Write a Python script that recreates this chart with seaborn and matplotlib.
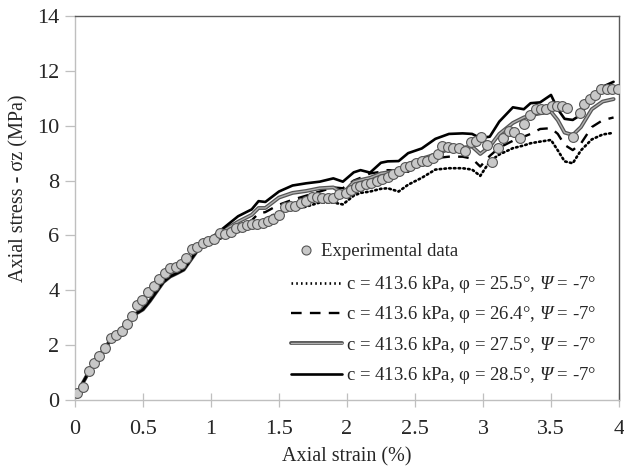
import numpy as np
import pandas as pd
import matplotlib
matplotlib.use("Agg")
import matplotlib.pyplot as plt
import matplotlib.patheffects as pe
from matplotlib.lines import Line2D
from matplotlib.ticker import FuncFormatter
import seaborn as sns

# ---------------- data ----------------
exp_strain = [0.017, 0.061, 0.103, 0.139, 0.179, 0.22, 0.262, 0.30, 0.343, 0.384,
              0.421, 0.46, 0.497, 0.54, 0.58, 0.62, 0.66, 0.70, 0.74, 0.78,
              0.82, 0.86, 0.90, 0.94, 0.98, 1.02, 1.064, 1.10, 1.15, 1.187,
              1.226, 1.265, 1.30, 1.34, 1.38, 1.416, 1.455, 1.50, 1.545, 1.58,
              1.62, 1.664, 1.70, 1.74, 1.78, 1.82, 1.86, 1.90, 1.945, 1.99,
              2.03, 2.07, 2.097, 2.14, 2.18, 2.22, 2.26, 2.30, 2.34, 2.385,
              2.43, 2.466, 2.51, 2.55, 2.586, 2.63, 2.667, 2.70, 2.74, 2.78,
              2.826, 2.865, 2.91, 2.95, 2.985, 3.03, 3.066, 3.107, 3.15, 3.19,
              3.23, 3.27, 3.305, 3.345, 3.39, 3.43, 3.466, 3.505, 3.547, 3.584,
              3.62, 3.66, 3.71, 3.745, 3.785, 3.82, 3.866, 3.91, 3.946, 3.99]
exp_stress = [0.24, 0.49, 1.07, 1.36, 1.62, 1.91, 2.27, 2.37, 2.53, 2.76,
              3.07, 3.46, 3.65, 3.93, 4.16, 4.41, 4.62, 4.80, 4.86, 4.95,
              5.17, 5.50, 5.59, 5.74, 5.81, 5.87, 6.08, 6.04, 6.14, 6.26,
              6.32, 6.37, 6.40, 6.40, 6.44, 6.53, 6.59, 6.74, 7.02, 7.08,
              7.06, 7.19, 7.27, 7.41, 7.39, 7.38, 7.35, 7.38, 7.50, 7.56,
              7.66, 7.75, 7.80, 7.86, 7.92, 7.98, 8.06, 8.14, 8.23, 8.36,
              8.48, 8.54, 8.64, 8.72, 8.72, 8.83, 8.97, 9.27, 9.24, 9.20,
              9.18, 9.08, 9.40, 9.44, 9.58, 9.30, 8.67, 9.19, 9.54, 9.81,
              9.76, 9.56, 10.05, 10.39, 10.60, 10.60, 10.61, 10.72, 10.72, 10.72,
              10.66, 9.60, 10.45, 10.78, 10.96, 11.12, 11.33, 11.33, 11.33, 11.33]

model_strain = [0.03, 0.05, 0.1, 0.15, 0.2, 0.25, 0.3, 0.35, 0.4, 0.45,
                0.5, 0.55, 0.6, 0.65, 0.7, 0.75, 0.8, 0.85, 0.9, 0.95,
                1.0, 1.1, 1.2, 1.3, 1.35, 1.4, 1.5, 1.6, 1.7, 1.8,
                1.9, 1.97, 2.05, 2.1, 2.17, 2.25, 2.3, 2.38, 2.45, 2.55,
                2.65, 2.75, 2.85, 2.92, 2.98, 3.05, 3.12, 3.22, 3.3, 3.35,
                3.42, 3.5, 3.55, 3.6, 3.66, 3.72, 3.8, 3.88, 3.96]
common_start = [0.3, 0.55, 1.0, 1.4, 1.75, 2.1, 2.4, 2.62, 2.9, 3.15,
                3.3, 3.6, 3.95, 4.3, 4.5, 4.62, 4.75, 5.1, 5.45, 5.7]
stress_phi255 = common_start + [
    5.75, 5.95, 6.15, 6.35, 6.5, 6.6, 6.85, 6.95, 7.05, 7.2,
    7.2, 7.13, 7.45, 7.55, 7.6, 7.7, 7.72, 7.6, 7.85, 8.1,
    8.4, 8.45, 8.45, 8.4, 8.17, 8.7, 8.95, 9.18, 9.28, 9.36,
    9.42, 9.48, 9.1, 8.7, 8.63, 9.1, 9.5, 9.68, 9.74]
stress_phi264 = common_start + [
    5.8, 6.05, 6.3, 6.55, 6.8, 6.85, 7.12, 7.3, 7.45, 7.6,
    7.75, 7.72, 8.0, 8.1, 8.26, 8.32, 8.38, 8.36, 8.32, 8.69,
    8.82, 8.87, 8.87, 8.8, 8.51, 8.9, 9.2, 9.45, 9.6, 9.7,
    9.88, 9.91, 9.7, 9.3, 9.11, 9.35, 9.95, 10.2, 10.3]
stress_phi275 = common_start + [
    5.85, 6.2, 6.5, 6.75, 7.0, 7.0, 7.38, 7.55, 7.62, 7.72,
    7.75, 7.53, 7.95, 8.02, 8.1, 8.26, 8.3, 8.32, 8.6, 8.8,
    8.95, 9.15, 9.2, 9.24, 8.97, 9.24, 9.7, 10.1, 10.3, 10.38,
    10.45, 10.51, 10.2, 9.75, 9.66, 9.95, 10.6, 10.88, 10.97]
stress_phi285 = common_start + [
    5.9, 6.3, 6.7, 6.95, 7.25, 7.22, 7.6, 7.82, 7.9, 7.96,
    8.08, 7.96, 8.3, 8.38, 8.29, 8.65, 8.7, 8.71, 9.0, 9.17,
    9.52, 9.7, 9.72, 9.7, 9.55, 9.6, 10.15, 10.67, 10.6, 10.82,
    10.85, 11.12, 10.6, 10.25, 10.21, 10.4, 11.1, 11.42, 11.6]

labels = ["c = 413.6 kPa, φ = 25.5°, $Ψ$ = -7°",
          "c = 413.6 kPa, φ = 26.4°, $Ψ$ = -7°",
          "c = 413.6 kPa, φ = 27.5°, $Ψ$ = -7°",
          "c = 413.6 kPa, φ = 28.5°, $Ψ$ = -7°"]
x_ticks = [0, 0.5, 1, 1.5, 2, 2.5, 3, 3.5, 4]
y_ticks = [0, 2, 4, 6, 8, 10, 12, 14]

# ---------------- style ----------------
sns.set_theme(style="white")
plt.rcParams["font.family"] = ["Liberation Serif", "DejaVu Serif"]
plt.rcParams["mathtext.fontset"] = "custom"
# Greek capitals fall back to the 'rm' math font; make it italic so Ψ is italic
plt.rcParams["mathtext.rm"] = "Liberation Serif:italic"
plt.rcParams["mathtext.it"] = "Liberation Serif:italic"

fig = plt.figure(figsize=(6.24, 4.69), dpi=100)
ax = fig.add_axes([0.120, 0.147, 0.872, 0.819])

exp_df = pd.DataFrame({"strain": exp_strain, "stress": exp_stress})
model_df = pd.concat([
    pd.DataFrame({"strain": model_strain, "stress": s, "model": lab})
    for s, lab in zip([stress_phi255, stress_phi264, stress_phi275, stress_phi285], labels)
])

styles = {
    labels[0]: dict(color="black", lw=1.9, ls=(0, (0.6, 1.2)), dash_capstyle="round"),
    labels[1]: dict(color="black", lw=1.7, ls=(0, (4.5, 3.5))),
    labels[2]: dict(color="#b0b0b0", lw=1.0, ls="-"),
    labels[3]: dict(color="black", lw=1.9, ls="-"),
}

for lab in labels:
    sub = model_df[model_df["model"] == lab]
    st = styles[lab]
    sns.lineplot(data=sub, x="strain", y="stress", ax=ax, color=st["color"],
                 linewidth=st["lw"], linestyle=st["ls"], sort=False,
                 estimator=None, legend=False, zorder=3)
    ln = ax.lines[-1]
    if "dash_capstyle" in st:
        ln.set_dash_capstyle("round")
    if lab == labels[2]:
        ln.set_path_effects([pe.Stroke(linewidth=2.8, foreground="#555555"), pe.Normal()])

sns.scatterplot(data=exp_df, x="strain", y="stress", ax=ax, s=50,
                color="#c8c8c8", edgecolor="#555555", linewidth=0.8, zorder=4,
                legend=False)

ax.set_xlim(0, 4)
ax.set_ylim(0, 14)
ax.set_xticks(x_ticks)
ax.set_yticks(y_ticks)
ax.xaxis.set_major_formatter(FuncFormatter(lambda v, p: f"{v:g}"))
ax.tick_params(axis="x", direction="inout", length=10, width=0.9, color="#bfbfbf",
               labelsize=16, pad=9, bottom=True)
ax.tick_params(axis="y", direction="out", length=7, width=0.9, color="#bfbfbf",
               labelsize=16, pad=4, left=True)
for side in ["left", "bottom"]:
    ax.spines[side].set_color("#bfbfbf")
    ax.spines[side].set_linewidth(1.0)
for side in ["top", "right"]:
    ax.spines[side].set_color("#595959")
    ax.spines[side].set_linewidth(1.0)

ax.set_xlabel("Axial strain (%)", fontsize=14.5, labelpad=6)
ax.set_ylabel("Axial stress - σz (MPa)", fontsize=14.5)
ax.yaxis.set_label_coords(-0.086, 0.552)

# legends
h_exp = Line2D([], [], marker="o", ls="none", markersize=6.5,
               markerfacecolor="#c8c8c8", markeredgecolor="#555555", markeredgewidth=0.8)
leg1 = ax.legend([h_exp], ["Experimental data"], loc="upper left",
                 bbox_to_anchor=(0.415, 0.409), frameon=False, fontsize=13.5,
                 handlelength=0.6, handletextpad=0.5, borderpad=0, borderaxespad=0)
ax.add_artist(leg1)
line_handles = []
for lab in labels:
    st = styles[lab]
    h = Line2D([], [], color=st["color"], lw=st["lw"], ls=st["ls"])
    if lab == labels[2]:
        h.set_path_effects([pe.Stroke(linewidth=2.8, foreground="#555555"), pe.Normal()])
    line_handles.append(h)
leg2 = ax.legend(line_handles, labels, loc="upper left",
                 bbox_to_anchor=(0.398, 0.328), frameon=False, fontsize=13.5,
                 handlelength=2.7, handletextpad=0.2, labelspacing=0.5,
                 borderpad=0, borderaxespad=0)

fig.savefig("out.png", dpi=100)
